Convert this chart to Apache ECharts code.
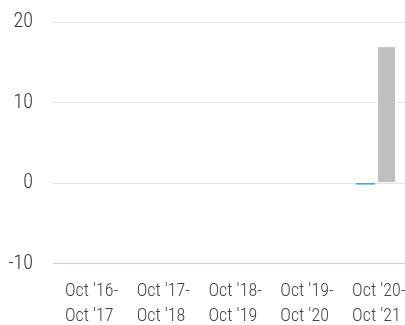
<!DOCTYPE html>
<html>
<head>
<meta charset="utf-8">
<style>
  html, body { margin: 0; padding: 0; background: #fff; overflow: hidden; }
  /* plot runs slightly past the right edge of the window */
  #chart { width: 412px; height: 325px; }
</style>
<script src="https://cdn.jsdelivr.net/npm/echarts@6/dist/echarts.min.js"></script>
</head>
<body>
<div id="chart"></div>
<script>
// Annual return periods
const periods = [
  ["Oct '16-", "Oct '17"],
  ["Oct '17-", "Oct '18"],
  ["Oct '18-", "Oct '19"],
  ["Oct '19-", "Oct '20"],
  ["Oct '20-", "Oct '21"]
];
const categories = periods.map(p => p.join('\n'));

// Returns (%) per period; empty where no data
const fundReturns = [null, null, null, null, -0.2];
const indexReturns = [null, null, null, null, 17.0];

// Value axis
const yMin = -10, yMax = 20, yStep = 10;

const FONT = '"Roboto Condensed", Roboto, sans-serif';
const chart = echarts.init(document.getElementById('chart'), null, { renderer: 'canvas' });

chart.setOption({
  animation: false,
  grid: { left: 53, right: 0, top: 22, height: 246, containLabel: false },
  xAxis: {
    type: 'category',
    data: categories,
    axisLine: { show: false },
    axisTick: { show: false },
    axisLabel: {
      margin: 15,
      interval: 0,
      formatter: function (v) {
        const parts = v.split('\n');
        return '{a|' + parts[0] + '}\n{a|' + parts[1] + '}';
      },
      rich: {
        a: {
          fontFamily: FONT,
          fontWeight: 300,
          fontSize: 18,
          color: '#444',
          width: 48,
          align: 'left',
          lineHeight: 25
        }
      }
    }
  },
  yAxis: {
    type: 'value',
    min: yMin,
    max: yMax,
    interval: yStep,
    axisLine: { show: false },
    axisTick: { show: false },
    axisLabel: {
      fontFamily: FONT,
      fontWeight: 300,
      fontSize: 20,
      color: '#333',
      margin: 20,
      padding: [3, 0, 0, 0]
    },
    splitLine: {
      lineStyle: {
        width: 1,
        color: ['#c9d4e2', '#e3e3e3', '#e3e3e3', '#e3e3e3']
      }
    }
  },
  series: [
    {
      name: 'Fund',
      type: 'bar',
      data: fundReturns,
      barWidth: 19,
      barGap: '10%',
      itemStyle: { color: '#46a6d4' }
    },
    {
      name: 'Index',
      type: 'bar',
      data: indexReturns,
      barWidth: 19,
      itemStyle: { color: '#bfbfbf', borderColor: '#fff', borderWidth: 1 }
    }
  ]
});
</script>
</body>
</html>
